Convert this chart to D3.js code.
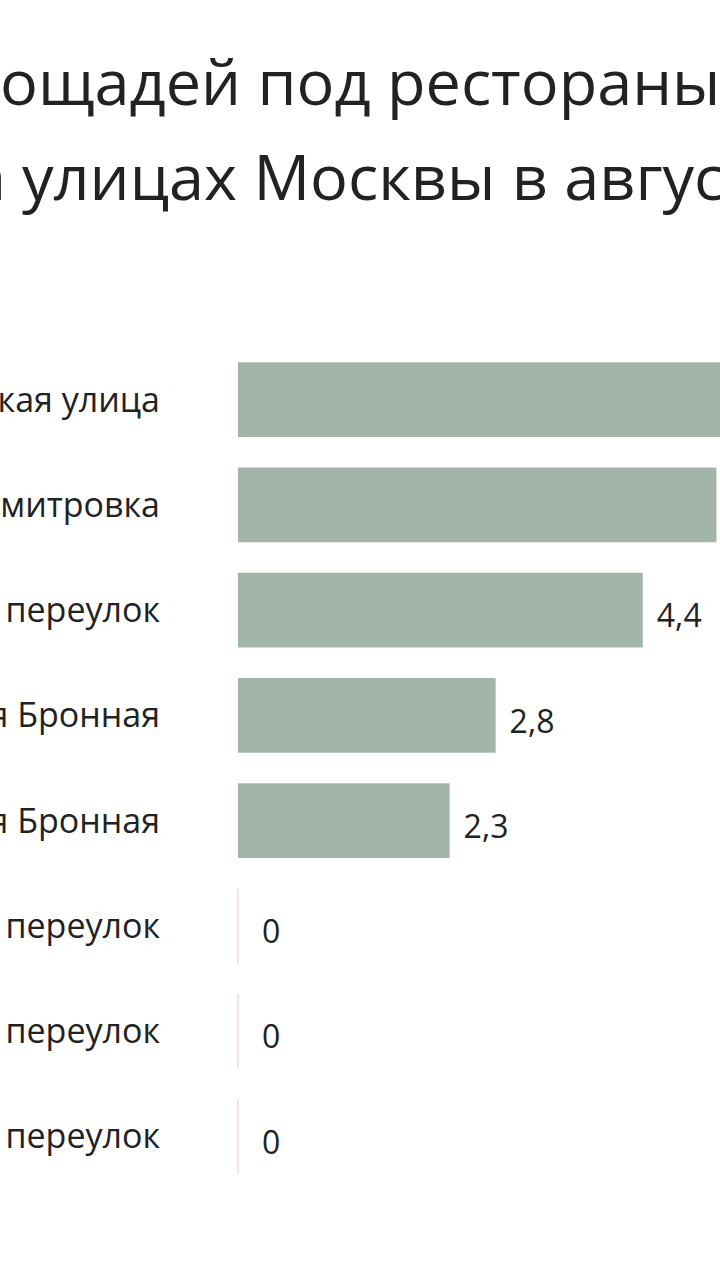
<!DOCTYPE html>
<html><head><meta charset="utf-8">
<script src="https://cdn.jsdelivr.net/npm/d3@7"></script>
<style>body{margin:0;background:#fff}svg{display:block}</style>
</head><body>
<script>
const categories = ["Никольская улица","Большая Дмитровка","Камергерский переулок","Малая Бронная","Большая Бронная","Столешников переулок","Кривоколенный переулок","Козихинский переулок"];
const values = [6.3, 5.2, 4.4, 2.8, 2.3, 0, 0, 0];
const valueLabels = ["6,3","5,2","4,4","2,8","2,3","0","0","0"];
const titleLines = [["Доля свободных пл","ощадей под рестораны"],["на","улицах Москвы в августе"]];

const W=720,H=1280;
const svg=d3.select("body").append("svg").attr("width",W).attr("height",H);
const font="'Open Sans','Noto Sans',sans-serif";
const x=d3.scaleLinear().domain([0,1]).range([238,330]);
const y=d3.scaleBand().domain(categories).range([347,1189]).paddingInner(0.29).paddingOuter(0.145);

const tl=[{x:0,y:105,p:titleLines[0],gap:0},{x:22,y:200,p:titleLines[1],gap:16}];
tl.forEach(t=>{
  svg.append("text").attr("x",t.x-t.gap).attr("y",t.y).attr("text-anchor","end").attr("font-family",font).attr("font-size",63).attr("fill","#222").text(t.p[0]);
  svg.append("text").attr("x",t.x).attr("y",t.y).attr("font-family",font).attr("font-size",63).attr("fill","#222").text(t.p[1]);
});

const g=svg.append("g");
categories.forEach((c,i)=>{
  const v=values[i], yy=y(c), bh=y.bandwidth();
  if(v>0) g.append("rect").attr("x",x(0)).attr("y",yy).attr("width",x(v)-x(0)).attr("height",bh).attr("fill","#a3b5a8");
  else g.append("line").attr("x1",x(0)).attr("x2",x(0)).attr("y1",yy).attr("y2",yy+bh).attr("stroke","#eadfcf").attr("stroke-width",1.5);
  g.append("text").attr("x",160).attr("y",yy+bh/2).attr("dy","0.35em").attr("text-anchor","end")
    .attr("font-family",font).attr("font-size",34).attr("fill","#222").text(c);
  g.append("text").attr("x",x(v)+(v>0?14:24)).attr("y",yy+bh/2+6).attr("dy","0.35em")
    .attr("font-family",font).attr("font-size",32).attr("fill","#222").text(valueLabels[i]);
});
</script>
</body></html>
